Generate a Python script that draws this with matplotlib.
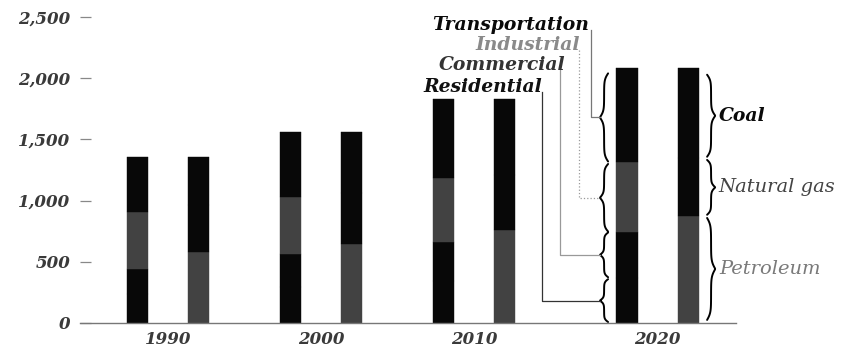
import numpy as np
import matplotlib
matplotlib.use('Agg')
import matplotlib.pyplot as plt

years = ['1990', '2000', '2010', '2020']
group_x = [0.0, 1.0, 2.0, 3.2]

# left bar of each pair: by sector (bottom to top)
sectors = ['Residential', 'Commercial', 'Industrial', 'Transportation']
residential = [235, 295, 340, 370]
commercial = [206, 269, 322, 373]
industrial = [466, 465, 523, 572]
transportation = [449, 531, 645, 768]

# right bar of each pair: by fuel (bottom to top)
fuels = ['Petroleum', 'Natural gas', 'Coal']
petroleum = [580, 645, 760, 874]
natural_gas = [380, 420, 450, 474]
coal = [396, 495, 620, 735]

yticks = [0, 500, 1000, 1500, 2000, 2500]
ytick_labels = ['0', '500', '1,000', '1,500', '2,000', '2,500']

BLACK = '#080808'
GREY = '#424242'
serif = 'DejaVu Serif'


def brace(ax, x_end, y0, y1, w, color='k', lw=1.4):
    # curly brace along y, ends at x_end, tip at x_end - w (w<0 gives "}")
    n = 60
    beta = 14.0
    t = np.linspace(0, 1, n)
    half = 1 / (1 + np.exp(-beta * (t - 0))) + 1 / (1 + np.exp(-beta * (t - 1)))
    xs = np.concatenate([half, half[::-1]])
    xs = x_end - w * (xs - 0.5)
    ys = np.linspace(y0, y1, 2 * n)
    ax.plot(xs, ys, color=color, lw=lw, clip_on=False, solid_capstyle='round')


fig = plt.figure(figsize=(8.66, 3.49), dpi=100)
ax = fig.add_axes([0.0924, 0.0745, 0.7575, 0.877])

bw = 0.14
off = 0.2
lx = [g - off for g in group_x]
rx = [g + off for g in group_x]

seg_colors = [BLACK, BLACK, GREY, BLACK]
bottom = np.zeros(4)
for vals, c in zip([residential, commercial, industrial, transportation], seg_colors):
    ax.bar(lx, vals, bw, bottom=bottom, color=c, edgecolor=c, lw=0.3, zorder=2)
    bottom = bottom + np.array(vals)

fuel_colors = [GREY, BLACK, BLACK]
bottom = np.zeros(4)
for vals, c in zip([petroleum, natural_gas, coal], fuel_colors):
    ax.bar(rx, vals, bw, bottom=bottom, color=c, edgecolor=c, lw=0.3, zorder=2)
    bottom = bottom + np.array(vals)

ax.set_xlim(-0.575, 3.712)
ax.set_ylim(0, 2500)
for s in ['top', 'right', 'left']:
    ax.spines[s].set_visible(False)
ax.spines['bottom'].set_color('#777777')
ax.spines['bottom'].set_linewidth(1.0)

ax.set_yticks(yticks)
ax.set_yticklabels(ytick_labels)
ax.set_xticks(group_x)
ax.set_xticklabels(years)
ax.tick_params(axis='y', direction='in', length=8, width=0.9, color='#888888', pad=7)
ax.tick_params(axis='x', length=0, pad=6)
for lab in ax.get_yticklabels() + ax.get_xticklabels():
    lab.set_family(serif)
    lab.set_style('italic')
    lab.set_weight('bold')
    lab.set_size(12)
    lab.set_color('#3a3a3a')

# sector braces on the 2020 left bar
i = 3
sec_vals = [residential[i], commercial[i], industrial[i], transportation[i]]
cum = np.concatenate([[0], np.cumsum(sec_vals)])
inset = [8, 0, 12, 40]
mids = []
for k in range(4):
    y0 = cum[k] + (8 if k == 0 else 4)
    y1 = cum[k + 1] - inset[k] - 4
    brace(ax, 2.876, y0, y1, 0.052)
    mids.append((y0 + y1) / 2)

label_style = [
    # text x right, text y, line x, text colour, line colour, line style
    (2.752, 2435, 2.765, '#0a0a0a', '#777777', '-'),
    (2.693, 2271, 2.686, '#8a8a8a', '#9a9a9a', ':'),
    (2.595, 2108, 2.562, '#333333', '#999999', '-'),
    (2.444, 1928, 2.444, '#111111', '#333333', '-'),
]
order = [3, 2, 1, 0]
for (tx, ty, vx, tc, lc, ls), k in zip(label_style, order):
    ax.text(tx, ty, sectors[k], ha='right', va='center', family=serif,
            style='italic', weight='bold', size=13.5, color=tc)
    ax.plot([vx, vx, 2.824], [ty - 45, mids[k], mids[k]], color=lc, lw=0.9,
            ls=ls, clip_on=False)

# fuel braces on the 2020 right bar
fuel_vals = [petroleum[i], natural_gas[i], coal[i]]
cum = np.concatenate([[0], np.cumsum(fuel_vals)])
fuel_text = ['#7a7a7a', '#444444', '#0a0a0a']
for k in range(3):
    y0 = cum[k] + (25 if k == 0 else 10)
    y1 = cum[k + 1] - (16 if k < 2 else 55)
    brace(ax, 3.523, y0, y1, -0.052)
    ax.text(3.6, (y0 + y1) / 2, fuels[k], ha='left', va='center', family=serif,
            style='italic', weight='bold' if k == 2 else 'normal',
            size=13.5 if k == 2 else 14, color=fuel_text[k], clip_on=False)

fig.savefig('out.png', dpi=100)
